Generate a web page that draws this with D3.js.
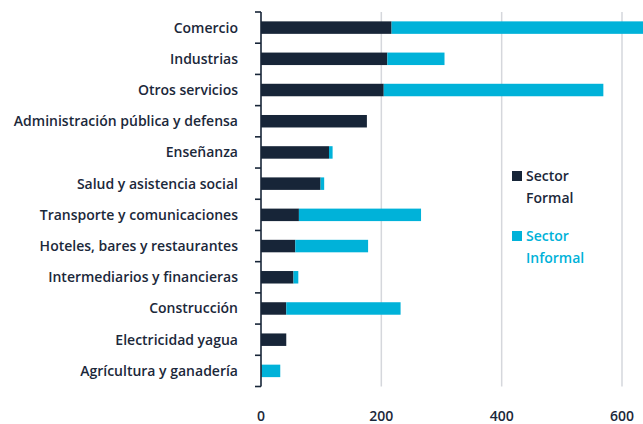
<!DOCTYPE html>
<html>
<head>
<meta charset="utf-8">
<script src="https://cdn.jsdelivr.net/npm/d3@7"></script>
<style>
  body { margin: 0; background: #fff; }
  svg text { font-family: "Open Sans", sans-serif; fill: #1b283a; }
</style>
</head>
<body>
<svg id="viz-container" width="643" height="424"></svg>
<script>
// sectors, top to bottom
var sectors = ["Comercio", "Industrias", "Otros servicios", "Administración pública y defensa",
  "Enseñanza", "Salud y asistencia social", "Transporte y comunicaciones",
  "Hoteles, bares y restaurantes", "Intermediarios y financieras", "Construcción",
  "Electricidad yagua", "Agrícultura y ganadería"];
var formal   = [217, 210, 204, 176, 113, 99, 63, 57, 54, 42, 42, 1];
var informal = [430, 95, 365, 0, 6, 6, 203, 121, 8, 190, 0, 31];
var xTicks = [0, 200, 400, 600];
var seriesNames = ["Sector Formal", "Sector Informal"];

var navy = "#172538", cyan = "#00b2d9";

var svg = d3.select("#viz-container");

var x = d3.scaleLinear().domain([0, 600]).range([261, 622]);
var y = d3.scaleBand().domain(sectors).range([12, 386.5]).paddingInner(0.6).paddingOuter(0.3);
var yb = d3.scaleBand().domain(sectors).range([12, 386.5]);

// gridlines
svg.append("g")
  .selectAll("line")
  .data(xTicks.filter(d => d > 0))
 .enter().append("line")
  .attr("x1", d => x(d)).attr("x2", d => x(d))
  .attr("y1", 12).attr("y2", 386.5)
  .attr("stroke", "#d5d7dc").attr("stroke-width", 1.5);

// stacked bars
var rows = sectors.map((s, i) => ({ name: s, formal: formal[i], informal: informal[i] }));
var bars = svg.append("g");
bars.selectAll(".formal")
  .data(rows)
 .enter().append("rect")
  .attr("class", "formal")
  .attr("x", x(0))
  .attr("y", d => y(d.name))
  .attr("width", d => x(d.formal) - x(0))
  .attr("height", y.bandwidth())
  .attr("fill", navy);
bars.selectAll(".informal")
  .data(rows.filter(d => d.informal > 0))
 .enter().append("rect")
  .attr("class", "informal")
  .attr("x", d => x(d.formal))
  .attr("y", d => y(d.name))
  .attr("width", d => x(d.formal + d.informal) - x(d.formal))
  .attr("height", y.bandwidth())
  .attr("fill", cyan);

// y axis: line with ticks at band edges
var yAxis = svg.append("g");
yAxis.append("line")
  .attr("x1", 261).attr("x2", 261).attr("y1", 12).attr("y2", 386.5)
  .attr("stroke", navy).attr("stroke-width", 1.6);
var edges = sectors.map(s => yb(s)).concat([yb.range()[1]]);
yAxis.selectAll(".tick")
  .data(edges)
 .enter().append("line")
  .attr("x1", 255).attr("x2", 261)
  .attr("y1", d => d).attr("y2", d => d)
  .attr("stroke", navy).attr("stroke-width", 1.6);
yAxis.selectAll(".label")
  .data(sectors)
 .enter().append("text")
  .attr("x", 238)
  .attr("y", d => yb(d) + yb.bandwidth() / 2)
  .attr("dy", "0.35em")
  .attr("text-anchor", "end")
  .attr("font-size", 14)
  .attr("font-weight", 600)
  .text(d => d);

// x tick labels
svg.append("g")
  .selectAll("text")
  .data(xTicks)
 .enter().append("text")
  .attr("x", d => x(d))
  .attr("y", 421)
  .attr("text-anchor", "middle")
  .attr("font-size", 14)
  .attr("font-weight", 600)
  .text(d => d);

// legend
var legend = svg.append("g");
var legendItems = [
  { name: seriesNames[0], color: navy, textColor: "#1b283a", y: 171 },
  { name: seriesNames[1], color: cyan, textColor: cyan, y: 231 }
];
legendItems.forEach(function(d) {
  legend.append("rect")
    .attr("x", 512).attr("y", d.y).attr("width", 10).attr("height", 10)
    .attr("fill", d.color);
  var words = d.name.split(" ");
  var t = legend.append("text")
    .attr("font-size", 14)
    .attr("font-weight", 600)
    .style("fill", d.textColor);
  t.append("tspan").attr("x", 526).attr("y", d.y + 10).text(words[0]);
  t.append("tspan").attr("x", 526).attr("y", d.y + 32).text(words[1]);
});
</script>
</body>
</html>
